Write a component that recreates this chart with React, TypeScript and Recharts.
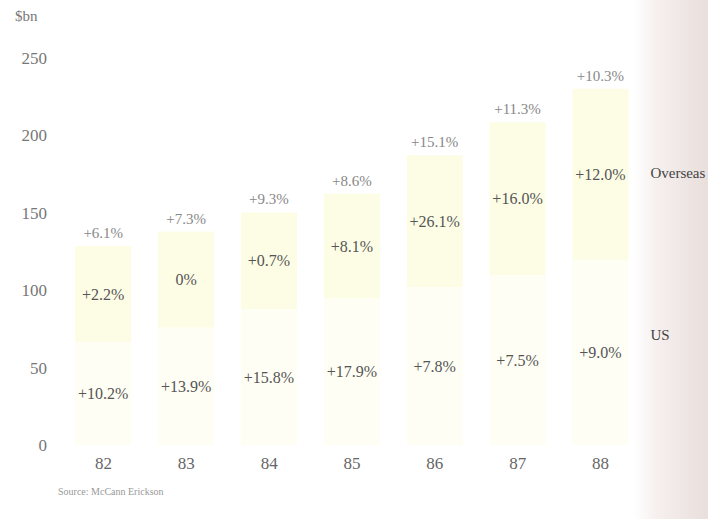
import { BarChart, Bar, XAxis, YAxis, LabelList } from 'recharts'

const years = ['82', '83', '84', '85', '86', '87', '88']
const usSpend = [66.6, 75.9, 87.8, 94.8, 102.1, 109.8, 119.7]
const overseasSpend = [62, 62, 62.4, 67.5, 85, 98.7, 110.5]
const usGrowth = ['+10.2%', '+13.9%', '+15.8%', '+17.9%', '+7.8%', '+7.5%', '+9.0%']
const overseasGrowth = ['+2.2%', '0%', '+0.7%', '+8.1%', '+26.1%', '+16.0%', '+12.0%']
const totalGrowth = ['+6.1%', '+7.3%', '+9.3%', '+8.6%', '+15.1%', '+11.3%', '+10.3%']
const yTicks = [0, 50, 100, 150, 200, 250]

const data = years.map((year, i) => ({
  year,
  us: usSpend[i],
  overseas: overseasSpend[i],
  usLabel: usGrowth[i],
  overseasLabel: overseasGrowth[i],
  totalLabel: totalGrowth[i],
}))

const font = '"Liberation Serif", serif'

// series name written to the right of the last bar
const sideName = (name: string, dy: number) => (props: any) => {
  const { x, y, width, height, index } = props
  if (index !== years.length - 1) return null
  return (
    <text x={x + width + 22} y={y + height / 2 + dy} fill="#444" fontSize={15} fontFamily={font} dominantBaseline="middle">
      {name}
    </text>
  )
}

export default function App() {
  return (
    <div
      style={{
        position: 'absolute',
        left: 0,
        top: 0,
        width: 708,
        height: 519,
        background: 'linear-gradient(to right, #fff 0px, #fff 634px, #f5efed 658px, #e9dfdd 708px)',
        fontFamily: font,
      }}
    >
      <div style={{ position: 'absolute', left: 15, top: 8, fontSize: 15, color: '#777' }}>$bn</div>
      <BarChart
        width={708}
        height={519}
        data={data}
        margin={{ top: 58, right: 66, bottom: 34, left: 0 }}
        barCategoryGap="16%"
      >
        <XAxis
          dataKey="year"
          axisLine={false}
          tickLine={false}
          tickMargin={6}
          height={40}
          tick={{ fill: '#666', fontSize: 17, fontFamily: font }}
        />
        <YAxis
          domain={[0, 250]}
          ticks={yTicks}
          axisLine={false}
          tickLine={false}
          width={62}
          tickMargin={9}
          tick={{ fill: '#777', fontSize: 17, fontFamily: font }}
        />
        <Bar dataKey="us" stackId="a" fill="#fefef4" isAnimationActive={false}>
          <LabelList dataKey="usLabel" position="center" fill="#555" fontSize={16} fontFamily={font} />
          <LabelList dataKey="usLabel" content={sideName('US', -16)} />
        </Bar>
        <Bar dataKey="overseas" stackId="a" fill="#fdfde6" isAnimationActive={false}>
          <LabelList dataKey="overseasLabel" position="center" fill="#555" fontSize={16} fontFamily={font} />
          <LabelList dataKey="totalLabel" position="top" offset={8} fill="#888" fontSize={15} fontFamily={font} />
          <LabelList dataKey="overseasLabel" content={sideName('Overseas', 0)} />
        </Bar>
      </BarChart>
      <div style={{ position: 'absolute', left: 58, top: 486, fontSize: 10, color: '#999' }}>Source: McCann Erickson</div>
    </div>
  )
}
